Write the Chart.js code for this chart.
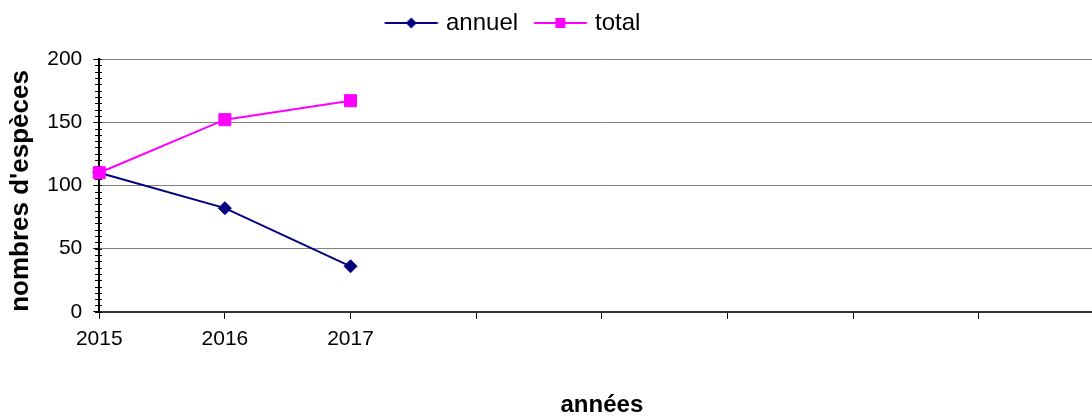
<!DOCTYPE html>
<html>
<head>
<meta charset="utf-8">
<script src="https://cdn.jsdelivr.net/npm/chart.js@4/dist/chart.umd.min.js"></script>
<style>
  html, body { margin: 0; padding: 0; background: #fff; overflow: hidden; }
  #chart { display: block; }
</style>
</head>
<body>
<canvas id="chart" width="1114" height="417"></canvas>
<script>
// categories: only the first three years are labelled, the rest of the axis is empty
const years = ['2015', '2016', '2017', '', '', '', '', '', ''];
const annuel = [110, 82, 36];
const total = [110, 152, 167];
const yMin = 0;
const yMax = 200;
const yStep = 50;
const minorStep = 5;

const navy = '#000080';
const magenta = '#ff00ff';

Chart.defaults.font.family = "'Liberation Sans', Arial, sans-serif";
Chart.defaults.color = '#000';

// line + marker symbol, Excel style
function legendSymbol(color, shape) {
    const c = document.createElement('canvas');
    c.width = 64;
    c.height = 14;
    const g = c.getContext('2d');
    const a = 10.25, mid = a + 26.5;
    g.strokeStyle = color;
    g.lineWidth = 2;
    g.beginPath();
    g.moveTo(a, 7);
    g.lineTo(a + 53, 7);
    g.stroke();
    g.fillStyle = color;
    g.beginPath();
    if (shape === 'diamond') {
        g.moveTo(mid, 1.5); g.lineTo(mid + 5.5, 7); g.lineTo(mid, 12.5); g.lineTo(mid - 5.5, 7);
    } else {
        g.rect(mid - 5, 2, 10, 10);
    }
    g.fill();
    return c;
}
const symbols = [legendSymbol(navy, 'diamond'), legendSymbol(magenta, 'square')];

// legend is not centred in the original, move it into place
const legendPlace = {
    id: 'legendPlace',
    afterLayout(chart) {
        const lg = chart.legend;
        const w = lg.right - lg.left;
        lg.left = 369;
        lg.right = 369 + w;
        lg.top = 1;
    }
};

// small minor ticks crossing the value axis
const minorTicks = {
    id: 'minorTicks',
    beforeDatasetsDraw(chart) {
        const y = chart.scales.y;
        const x0 = Math.round(chart.chartArea.left);
        const ctx = chart.ctx;
        ctx.save();
        ctx.strokeStyle = '#000';
        ctx.lineWidth = 1;
        ctx.beginPath();
        for (let v = y.min; v <= y.max; v += minorStep) {
            const py = Math.round(y.getPixelForValue(v)) + 0.5;
            ctx.moveTo(x0 - 4, py);
            ctx.lineTo(x0 + 3, py);
        }
        ctx.stroke();
        ctx.restore();
    }
};

new Chart(document.getElementById('chart'), {
    type: 'line',
    data: {
        labels: years,
        datasets: [{
            label: 'annuel',
            data: annuel,
            borderColor: navy,
            backgroundColor: navy,
            borderWidth: 2,
            pointStyle: 'rectRot',
            pointRadius: 6.5,
            pointBorderWidth: 1,
            pointBackgroundColor: navy,
            pointBorderColor: navy,
            tension: 0,
            clip: false,
            order: 1
        }, {
            label: 'total',
            data: total,
            borderColor: magenta,
            backgroundColor: magenta,
            borderWidth: 2,
            pointStyle: 'rect',
            pointRadius: 8.5,
            pointBorderWidth: 1,
            pointBackgroundColor: magenta,
            pointBorderColor: magenta,
            tension: 0,
            clip: false,
            order: 0
        }]
    },
    options: {
        responsive: false,
        animation: false,
        layout: { padding: { top: 15, right: 2, left: 0, bottom: 0 } },
        plugins: {
            legend: {
                position: 'top',
                align: 'start',
                labels: {
                    font: { size: 24 },
                    color: '#000',
                    usePointStyle: true,
                    pointStyleWidth: 55,
                    padding: 10,
                    sort: (a, b) => a.datasetIndex - b.datasetIndex,
                    generateLabels(chart) {
                        const items = Chart.defaults.plugins.legend.labels.generateLabels(chart);
                        items.forEach(it => { it.pointStyle = symbols[it.datasetIndex]; });
                        return items;
                    }
                }
            },
            tooltip: { enabled: false }
        },
        scales: {
            x: {
                type: 'category',
                offset: false,
                grid: { display: true, drawOnChartArea: false, drawTicks: true, tickLength: 7, tickColor: '#000' },
                border: { color: '#333', width: 2 },
                ticks: { autoSkip: false, maxRotation: 0, padding: 8, color: '#000', font: { size: 21 } },
                title: {
                    display: true,
                    text: 'années',
                    color: '#000',
                    font: { size: 24, weight: 'bold', lineHeight: 1 },
                    padding: { top: 33, bottom: 0 }
                }
            },
            y: {
                min: yMin,
                max: yMax,
                ticks: { stepSize: yStep, padding: 11, color: '#000', font: { size: 21 } },
                grid: { color: '#808080', lineWidth: 1, tickLength: 6, tickColor: '#000' },
                border: { color: '#000', width: 2 },
                title: {
                    display: true,
                    text: "nombres d'espèces",
                    align: 'start',
                    color: '#000',
                    font: { size: 26, weight: 'bold' },
                    padding: { top: 5, bottom: 0 }
                }
            }
        }
    },
    plugins: [legendPlace, minorTicks]
});
</script>
</body>
</html>
